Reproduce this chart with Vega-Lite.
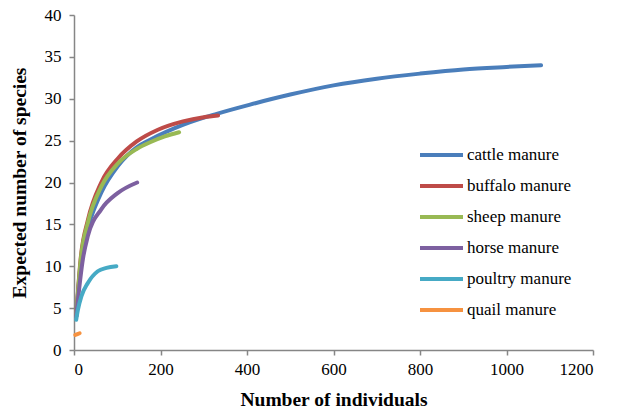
{
  "$schema": "https://vega.github.io/schema/vega-lite/v6.json",
  "width": 519,
  "height": 335,
  "autosize": {"type": "none"},
  "padding": {"left": 74, "top": 15, "right": 27, "bottom": 67},
  "background": "white",
  "config": {
    "view": {"stroke": null},
    "font": "Liberation Serif",
    "axis": {
      "grid": false,
      "domainColor": "#868686",
      "domainWidth": 1.5,
      "tickColor": "#868686",
      "tickWidth": 1.5,
      "tickSize": 5,
      "labelFont": "Liberation Serif",
      "labelFontSize": 17,
      "labelColor": "#000000",
      "titleFont": "Liberation Serif",
      "titleFontSize": 19.5,
      "titleFontWeight": "bold",
      "titleColor": "#000000"
    },
    "legend": {
      "labelFont": "Liberation Serif",
      "labelFontSize": 17,
      "labelColor": "#000000"
    }
  },
  "data": {
    "values": [
      {"series": "cattle manure", "n": 5, "S": 4},
      {"series": "cattle manure", "n": 16, "S": 10.5},
      {"series": "cattle manure", "n": 32, "S": 14.6},
      {"series": "cattle manure", "n": 48, "S": 17},
      {"series": "cattle manure", "n": 63, "S": 18.8},
      {"series": "cattle manure", "n": 102, "S": 22},
      {"series": "cattle manure", "n": 145, "S": 24.2},
      {"series": "cattle manure", "n": 176, "S": 25.1},
      {"series": "cattle manure", "n": 253, "S": 26.9},
      {"series": "cattle manure", "n": 330, "S": 28.2},
      {"series": "cattle manure", "n": 407, "S": 29.3},
      {"series": "cattle manure", "n": 500, "S": 30.5},
      {"series": "cattle manure", "n": 600, "S": 31.6},
      {"series": "cattle manure", "n": 700, "S": 32.4},
      {"series": "cattle manure", "n": 800, "S": 33.0},
      {"series": "cattle manure", "n": 900, "S": 33.5},
      {"series": "cattle manure", "n": 1000, "S": 33.8},
      {"series": "cattle manure", "n": 1080, "S": 34.0},
      {"series": "buffalo manure", "n": 5, "S": 4},
      {"series": "buffalo manure", "n": 16, "S": 11.2},
      {"series": "buffalo manure", "n": 32, "S": 15.5},
      {"series": "buffalo manure", "n": 63, "S": 20},
      {"series": "buffalo manure", "n": 102, "S": 22.9},
      {"series": "buffalo manure", "n": 145, "S": 24.9},
      {"series": "buffalo manure", "n": 194, "S": 26.3},
      {"series": "buffalo manure", "n": 252, "S": 27.3},
      {"series": "buffalo manure", "n": 300, "S": 27.8},
      {"series": "buffalo manure", "n": 333, "S": 28.0},
      {"series": "sheep manure", "n": 5, "S": 4},
      {"series": "sheep manure", "n": 16, "S": 11},
      {"series": "sheep manure", "n": 32, "S": 15.2},
      {"series": "sheep manure", "n": 63, "S": 19.5},
      {"series": "sheep manure", "n": 102, "S": 22.3},
      {"series": "sheep manure", "n": 145, "S": 24.0},
      {"series": "sheep manure", "n": 176, "S": 24.8},
      {"series": "sheep manure", "n": 210, "S": 25.5},
      {"series": "sheep manure", "n": 243, "S": 26.0},
      {"series": "horse manure", "n": 5, "S": 4},
      {"series": "horse manure", "n": 21, "S": 11},
      {"series": "horse manure", "n": 32, "S": 13.6},
      {"series": "horse manure", "n": 63, "S": 16.8},
      {"series": "horse manure", "n": 100, "S": 18.7},
      {"series": "horse manure", "n": 146, "S": 20.0},
      {"series": "poultry manure", "n": 5, "S": 3.6},
      {"series": "poultry manure", "n": 9, "S": 4.8},
      {"series": "poultry manure", "n": 17, "S": 6.4},
      {"series": "poultry manure", "n": 32, "S": 8.0},
      {"series": "poultry manure", "n": 55, "S": 9.4},
      {"series": "poultry manure", "n": 75, "S": 9.8},
      {"series": "poultry manure", "n": 98, "S": 10.0},
      {"series": "quail manure", "n": 3, "S": 1.8},
      {"series": "quail manure", "n": 8, "S": 1.9},
      {"series": "quail manure", "n": 13, "S": 2.0}
    ]
  },
  "mark": {"type": "line", "interpolate": "monotone", "strokeWidth": 4, "strokeCap": "round"},
  "encoding": {
    "x": {
      "field": "n",
      "type": "quantitative",
      "scale": {"domain": [0, 1200], "nice": false},
      "axis": {
        "title": "Number of individuals", "format": "d",
        "values": [0, 200, 400, 600, 800, 1000, 1200],
        "labelPadding": 6, "titlePadding": 13
      }
    },
    "y": {
      "field": "S",
      "type": "quantitative",
      "scale": {"domain": [0, 40], "nice": false},
      "axis": {
        "title": "Expected number of species", "format": "d",
        "values": [0, 5, 10, 15, 20, 25, 30, 35, 40],
        "labelPadding": 8, "titlePadding": 15
      }
    },
    "color": {
      "field": "series",
      "type": "nominal",
      "scale": {
        "domain": ["cattle manure", "buffalo manure", "sheep manure", "horse manure", "poultry manure", "quail manure"],
        "range": ["#4A7EBB", "#BE4B48", "#98B954", "#7D60A0", "#46AAC5", "#F69240"]
      },
      "legend": {
        "title": null,
        "orient": "none",
        "legendX": 344,
        "legendY": 125,
        "symbolType": "stroke",
        "symbolSize": 1849,
        "symbolStrokeWidth": 4,
        "labelOffset": 2,
        "clipHeight": 30,
        "rowPadding": 1
      }
    }
  }
}
